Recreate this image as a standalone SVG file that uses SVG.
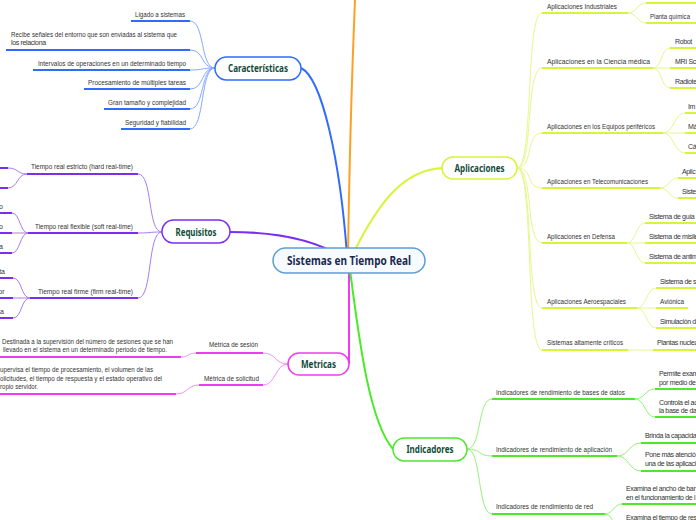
<svg xmlns="http://www.w3.org/2000/svg" width="696" height="520" viewBox="0 0 696 520">
<style>
.t{font-family:"Liberation Sans",Arial,sans-serif;font-size:7px;fill:#333}
.r{letter-spacing:-0.35px}
.n{font-family:"Noto Sans","Liberation Sans",sans-serif;font-weight:bold;font-size:10px;fill:#0f4c3a;text-anchor:middle}
.c{font-family:"Noto Sans","Liberation Sans",sans-serif;font-weight:bold;font-size:12.5px;fill:#1b2a4e;text-anchor:middle}
path,line{fill:none}
.bl{stroke:#2f6bff;stroke-width:2}
.blc{stroke:#86a8ff;stroke-width:1}
.pu{stroke:#7a2ff0;stroke-width:2}
.puc{stroke:#a77cf5;stroke-width:1}
.mg{stroke:#ee3cee;stroke-width:2}
.mgc{stroke:#f590f5;stroke-width:1}
.ye{stroke:#d6f53a;stroke-width:2}
.yec{stroke:#e6f78e;stroke-width:1}
.gr{stroke:#4ce82a;stroke-width:2}
.grc{stroke:#98f07c;stroke-width:1}
</style>
<g id="connectors">
  <path d="M348,255 Q350,120 355,0" stroke="#ffa022" stroke-width="2"/>
  <path d="M347,255 C 340,160 322,78 301,68" class="bl"/>
  <path d="M349,262 C 320,240 280,232 230,232" class="pu"/>
  <path d="M349,270 L349,364" class="mg"/>
  <path d="M355,250 C 380,200 405,170 442,168" class="ye"/>
  <path d="M350,270 C 358,330 368,420 393,449" class="gr"/>
  <path d="M215,68 C 200,68 205,21 190,21" class="blc"/>
  <path d="M215,68 C 200,68 205,50 190,50" class="blc"/>
  <path d="M215,68 C 200,68 205,70 190,70" class="blc"/>
  <path d="M215,68 C 200,68 205,89 190,89" class="blc"/>
  <path d="M215,68 C 200,68 205,109 190,109" class="blc"/>
  <path d="M215,68 C 200,68 205,129 190,129" class="blc"/>
  <path d="M162,232 C 147,232 153,174 138,174" class="puc"/>
  <path d="M162,232 C 147,232 153,233 138,233" class="puc"/>
  <path d="M162,232 C 147,232 153,298 138,298" class="puc"/>
  <path d="M27,174 C 17,174 18,168 8,168" class="puc"/>
  <path d="M27,174 C 17,174 18,188 8,188" class="puc"/>
  <path d="M28,233 C 20,233 20,213 12,213" class="puc"/>
  <path d="M28,233 L12,233" class="puc"/>
  <path d="M28,233 C 20,233 20,253 12,253" class="puc"/>
  <path d="M30,298 C 21,298 22,278 13,278" class="puc"/>
  <path d="M30,298 L13,298" class="puc"/>
  <path d="M30,298 C 21,298 22,318 13,318" class="puc"/>
  <path d="M288,364 C 275,364 276,353 263,353" class="mgc"/>
  <path d="M288,364 C 275,364 276,385 263,385" class="mgc"/>
  <path d="M196,353 C 188,353 189,357 181,357" class="mgc"/>
  <path d="M199,385 C 187,385 188,394 176,394" class="mgc"/>
  <path d="M517,168 C 534,168 525,13 542,13" class="yec"/>
  <path d="M517,168 C 534,168 525,68 542,68" class="yec"/>
  <path d="M517,168 C 534,168 525,133 542,133" class="yec"/>
  <path d="M517,168 C 534,168 525,188 542,188" class="yec"/>
  <path d="M517,168 C 534,168 525,243 542,243" class="yec"/>
  <path d="M517,168 C 534,168 525,308 542,308" class="yec"/>
  <path d="M517,168 C 534,168 525,350 542,350" class="yec"/>
  <path d="M628,13 C 637,13 637,3 646,3" class="yec"/>
  <path d="M628,13 C 637,13 637,23 646,23" class="yec"/>
  <path d="M653,68 C 662,68 661,48 670,48" class="yec"/>
  <path d="M653,68 L670,68" class="yec"/>
  <path d="M653,68 C 662,68 661,88 670,88" class="yec"/>
  <path d="M663,133 C 674,133 674,113 685,113" class="yec"/>
  <path d="M663,133 L685,133" class="yec"/>
  <path d="M663,133 C 674,133 674,153 685,153" class="yec"/>
  <path d="M660,188 C 669,188 669,178 678,178" class="yec"/>
  <path d="M660,188 C 669,188 669,198 678,198" class="yec"/>
  <path d="M627,243 C 636,243 636,223 645,223" class="yec"/>
  <path d="M627,243 L645,243" class="yec"/>
  <path d="M627,243 C 636,243 636,263 645,263" class="yec"/>
  <path d="M637,308 C 646,308 647,288 656,288" class="yec"/>
  <path d="M637,308 L656,308" class="yec"/>
  <path d="M637,308 C 646,308 647,328 656,328" class="yec"/>
  <path d="M628,350 L653,350" class="yec"/>
  <path d="M467,449 C 482,449 477,399 492,399" class="grc"/>
  <path d="M467,449 C 482,449 477,456 492,456" class="grc"/>
  <path d="M467,449 C 482,449 477,514 492,514" class="grc"/>
  <path d="M635,399 C 645,399 645,389 655,389" class="grc"/>
  <path d="M635,399 C 645,399 645,417 655,417" class="grc"/>
  <path d="M617,456 C 629,456 629,443 641,443" class="grc"/>
  <path d="M617,456 C 629,456 629,471 641,471" class="grc"/>
  <path d="M605,514 C 613,514 614,504 622,504" class="grc"/>
  <path d="M605,514 C 613,514 614,530 622,530" class="grc"/>
</g>

<g id="central">
  <rect x="273" y="248" width="152" height="25" rx="12.5" fill="#f7fbff" stroke="#5b9fd6" stroke-width="1.5"/>
  <text class="c" x="349" y="265" textLength="124" lengthAdjust="spacingAndGlyphs">Sistemas en Tiempo Real</text>
</g>

<g id="caracteristicas">
  <rect x="215" y="57" width="86" height="23" rx="11.5" fill="#fff" stroke="#2f6bff" stroke-width="1.5"/>
  <text class="n" x="258" y="71.5" textLength="60" lengthAdjust="spacingAndGlyphs">Características</text>
</g>
<g id="car-1"><line x1="131" y1="21" x2="190" y2="21" class="bl"/><text class="t" x="135" y="17" textLength="50" lengthAdjust="spacingAndGlyphs">Ligado a sistemas</text></g>
<g id="car-2"><line x1="6" y1="50" x2="190" y2="50" class="bl"/><text class="t" x="11" y="36.5" textLength="166" lengthAdjust="spacingAndGlyphs">Recibe señales del entorno que son enviadas al sistema que</text><text class="t r" x="11" y="45">los relaciona</text></g>
<g id="car-3"><line x1="33" y1="70" x2="190" y2="70" class="bl"/><text class="t" x="38" y="66" textLength="148" lengthAdjust="spacingAndGlyphs">Intervalos de operaciones en un determinado tiempo</text></g>
<g id="car-4"><line x1="84" y1="89" x2="190" y2="89" class="bl"/><text class="t" x="88" y="85" textLength="98" lengthAdjust="spacingAndGlyphs">Procesamiento de múltiples tareas</text></g>
<g id="car-5"><line x1="104" y1="109" x2="190" y2="109" class="bl"/><text class="t" x="108" y="105" textLength="78" lengthAdjust="spacingAndGlyphs">Gran tamaño y complejidad</text></g>
<g id="car-6"><line x1="121" y1="129" x2="190" y2="129" class="bl"/><text class="t" x="125" y="125" textLength="61" lengthAdjust="spacingAndGlyphs">Seguridad y fiabilidad</text></g>

<g id="requisitos">
  <rect x="162" y="220" width="68" height="23" rx="11.5" fill="#fff" stroke="#7a2ff0" stroke-width="1.5"/>
  <text class="n" x="196" y="235.5" textLength="41" lengthAdjust="spacingAndGlyphs">Requisitos</text>
</g>
<g id="req-1"><line x1="27" y1="174" x2="138" y2="174" class="pu"/><text class="t" x="31" y="169" textLength="102" lengthAdjust="spacingAndGlyphs">Tiempo real estricto (hard real-time)</text></g>
<g id="req-1a"><line x1="0" y1="168" x2="8" y2="168" class="pu"/></g>
<g id="req-1b"><line x1="0" y1="188" x2="8" y2="188" class="pu"/></g>
<g id="req-2"><line x1="28" y1="233" x2="138" y2="233" class="pu"/><text class="t" x="35" y="229" textLength="98" lengthAdjust="spacingAndGlyphs">Tiempo real flexible (soft real-time)</text></g>
<g id="req-2a"><line x1="0" y1="213" x2="12" y2="213" class="pu"/><text class="t" x="3" y="209" text-anchor="end">o</text></g>
<g id="req-2b"><line x1="0" y1="233" x2="12" y2="233" class="pu"/><text class="t" x="3" y="229" text-anchor="end">o</text></g>
<g id="req-2c"><line x1="0" y1="253" x2="12" y2="253" class="pu"/><text class="t" x="3" y="249" text-anchor="end">a</text></g>
<g id="req-3"><line x1="30" y1="298" x2="138" y2="298" class="pu"/><text class="t" x="38" y="294" textLength="95" lengthAdjust="spacingAndGlyphs">Tiempo real firme (firm real-time)</text></g>
<g id="req-3a"><line x1="0" y1="278" x2="13" y2="278" class="pu"/><text class="t" x="5" y="274" text-anchor="end">ta</text></g>
<g id="req-3b"><line x1="0" y1="298" x2="13" y2="298" class="pu"/><text class="t" x="4.5" y="294" text-anchor="end">or</text></g>
<g id="req-3c"><line x1="0" y1="318" x2="13" y2="318" class="pu"/><text class="t" x="4" y="314" text-anchor="end">ia</text></g>

<g id="metricas">
  <rect x="288" y="353" width="61" height="22" rx="11" fill="#fff" stroke="#ee3cee" stroke-width="1.5"/>
  <text class="n" x="318.5" y="367.5" textLength="35" lengthAdjust="spacingAndGlyphs">Metricas</text>
</g>
<g id="met-1"><line x1="196" y1="353" x2="263" y2="353" class="mg"/><text class="t" x="209" y="347" textLength="49" lengthAdjust="spacingAndGlyphs">Métrica de sesión</text></g>
<g id="met-1a"><line x1="0" y1="357" x2="181" y2="357" class="mg"/><text class="t" x="2" y="343.5" textLength="171" lengthAdjust="spacingAndGlyphs">Destinada a la supervisión del número de sesiones que se han</text><text class="t" x="3" y="352" textLength="164" lengthAdjust="spacingAndGlyphs">llevado en el sistema en un determinado periodo de tiempo.</text></g>
<g id="met-2"><line x1="199" y1="385" x2="263" y2="385" class="mg"/><text class="t" x="204" y="381" textLength="55" lengthAdjust="spacingAndGlyphs">Métrica de solicitud</text></g>
<g id="met-2a"><line x1="0" y1="394" x2="176" y2="394" class="mg"/><text class="t" x="0" y="371.5" textLength="153" lengthAdjust="spacingAndGlyphs">upervisa el tiempo de procesamiento, el volumen de las</text><text class="t" x="0" y="380.5" textLength="162" lengthAdjust="spacingAndGlyphs">olicitudes, el tiempo de respuesta y el estado operativo del</text><text class="t" x="0" y="389" textLength="38" lengthAdjust="spacingAndGlyphs">ropio servidor.</text></g>

<g id="aplicaciones">
  <rect x="442" y="157" width="75" height="22" rx="11" fill="#fff" stroke="#d6f53a" stroke-width="1.5"/>
  <text class="n" x="479.5" y="171.5" textLength="50" lengthAdjust="spacingAndGlyphs">Aplicaciones</text>
</g>
<g id="apl-1"><line x1="542" y1="13" x2="628" y2="13" class="ye"/><text class="t" x="547" y="9" textLength="70" lengthAdjust="spacingAndGlyphs">Aplicaciones Industriales</text></g>
<g id="apl-1a"><line x1="646" y1="3" x2="696" y2="3" class="ye"/></g>
<g id="apl-1b"><line x1="646" y1="23" x2="696" y2="23" class="ye"/><text class="t" x="650" y="19" textLength="40" lengthAdjust="spacingAndGlyphs">Planta química</text></g>
<g id="apl-2"><line x1="542" y1="68" x2="653" y2="68" class="ye"/><text class="t" x="547" y="64" textLength="103" lengthAdjust="spacingAndGlyphs">Aplicaciones en la Ciencia médica</text></g>
<g id="apl-2a"><line x1="670" y1="48" x2="696" y2="48" class="ye"/><text class="t r" x="675" y="44">Robot</text></g>
<g id="apl-2b"><line x1="670" y1="68" x2="696" y2="68" class="ye"/><text class="t r" x="675" y="64">MRI Sca</text></g>
<g id="apl-2c"><line x1="670" y1="88" x2="696" y2="88" class="ye"/><text class="t r" x="675" y="84">Radiote</text></g>
<g id="apl-3"><line x1="542" y1="133" x2="663" y2="133" class="ye"/><text class="t" x="547" y="129" textLength="108" lengthAdjust="spacingAndGlyphs">Aplicaciones en los Equipos periféricos</text></g>
<g id="apl-3a"><line x1="685" y1="113" x2="696" y2="113" class="ye"/><text class="t r" x="688" y="109">Im</text></g>
<g id="apl-3b"><line x1="685" y1="133" x2="696" y2="133" class="ye"/><text class="t r" x="688" y="129">Má</text></g>
<g id="apl-3c"><line x1="685" y1="153" x2="696" y2="153" class="ye"/><text class="t r" x="688" y="149">Cá</text></g>
<g id="apl-4"><line x1="542" y1="188" x2="660" y2="188" class="ye"/><text class="t" x="547" y="184" textLength="101" lengthAdjust="spacingAndGlyphs">Aplicaciones en Telecomunicaciones</text></g>
<g id="apl-4a"><line x1="678" y1="178" x2="696" y2="178" class="ye"/><text class="t r" x="682" y="174">Aplic</text></g>
<g id="apl-4b"><line x1="678" y1="198" x2="696" y2="198" class="ye"/><text class="t r" x="682" y="194">Siste</text></g>
<g id="apl-5"><line x1="542" y1="243" x2="627" y2="243" class="ye"/><text class="t" x="547" y="239" textLength="68" lengthAdjust="spacingAndGlyphs">Aplicaciones en Defensa</text></g>
<g id="apl-5a"><line x1="645" y1="223" x2="696" y2="223" class="ye"/><text class="t r" x="649" y="219">Sistema de guía</text></g>
<g id="apl-5b"><line x1="645" y1="243" x2="696" y2="243" class="ye"/><text class="t r" x="649" y="239">Sistema de misile</text></g>
<g id="apl-5c"><line x1="645" y1="263" x2="696" y2="263" class="ye"/><text class="t r" x="649" y="259">Sistema de antim</text></g>
<g id="apl-6"><line x1="542" y1="308" x2="637" y2="308" class="ye"/><text class="t" x="547" y="304" textLength="79" lengthAdjust="spacingAndGlyphs">Aplicaciones Aeroespaciales</text></g>
<g id="apl-6a"><line x1="656" y1="288" x2="696" y2="288" class="ye"/><text class="t r" x="660" y="284">Sistema de s</text></g>
<g id="apl-6b"><line x1="656" y1="308" x2="688" y2="308" class="ye"/><text class="t" x="660" y="304" textLength="24" lengthAdjust="spacingAndGlyphs">Aviónica</text></g>
<g id="apl-6c"><line x1="656" y1="328" x2="696" y2="328" class="ye"/><text class="t r" x="660" y="324">Simulación d</text></g>
<g id="apl-7"><line x1="542" y1="350" x2="628" y2="350" class="ye"/><text class="t" x="547" y="345" textLength="76" lengthAdjust="spacingAndGlyphs">Sistemas altamente críticos</text></g>
<g id="apl-7a"><line x1="653" y1="350" x2="696" y2="350" class="ye"/><text class="t r" x="657" y="345">Plantas nuclea</text></g>

<g id="indicadores">
  <rect x="393" y="438" width="74" height="23" rx="11.5" fill="#fff" stroke="#4ce82a" stroke-width="1.5"/>
  <text class="n" x="430" y="452.5" textLength="47" lengthAdjust="spacingAndGlyphs">Indicadores</text>
</g>
<g id="ind-1"><line x1="492" y1="399" x2="635" y2="399" class="gr"/><text class="t" x="496" y="395" textLength="129" lengthAdjust="spacingAndGlyphs">Indicadores de rendimiento de bases de datos</text></g>
<g id="ind-1a"><line x1="655" y1="389" x2="696" y2="389" class="gr"/><text class="t r" x="659" y="376">Permite exam</text><text class="t r" x="659" y="385">por medio de</text></g>
<g id="ind-1b"><line x1="655" y1="417" x2="696" y2="417" class="gr"/><text class="t r" x="659" y="404.5">Controla el ac</text><text class="t r" x="659" y="413">la base de da</text></g>
<g id="ind-2"><line x1="492" y1="456" x2="617" y2="456" class="gr"/><text class="t" x="496" y="452" textLength="116" lengthAdjust="spacingAndGlyphs">Indicadores de rendimiento de aplicación</text></g>
<g id="ind-2a"><line x1="641" y1="443" x2="696" y2="443" class="gr"/><text class="t r" x="645" y="437.5">Brinda la capacida</text></g>
<g id="ind-2b"><line x1="641" y1="471" x2="696" y2="471" class="gr"/><text class="t r" x="645" y="457">Pone más atenció</text><text class="t r" x="645" y="466">una de las aplicaci</text></g>
<g id="ind-3"><line x1="492" y1="514" x2="605" y2="514" class="gr"/><text class="t" x="496" y="509" textLength="97" lengthAdjust="spacingAndGlyphs">Indicadores de rendimiento de red</text></g>
<g id="ind-3a"><line x1="622" y1="504" x2="696" y2="504" class="gr"/><text class="t r" x="626" y="491">Examina el ancho de ban</text><text class="t r" x="626" y="500">en el funcionamiento de l</text></g>
<g id="ind-3b"><text class="t r" x="626" y="520">Examina el tiempo de res</text></g>
</svg>
